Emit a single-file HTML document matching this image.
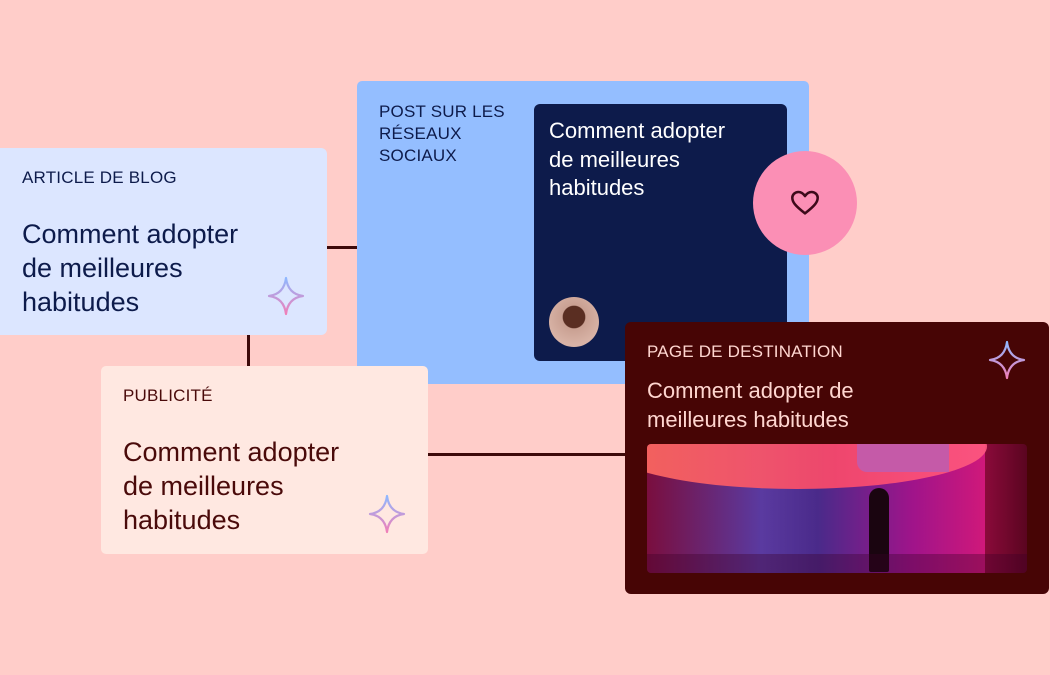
<!DOCTYPE html>
<html><head><meta charset="utf-8"><style>
body{margin:0;width:1050px;height:675px;background:#ffcdc9;position:relative;overflow:hidden;font-family:"Liberation Sans",sans-serif}
.a{position:absolute}
.lbl{font-size:17px;line-height:22px;letter-spacing:0.2px}
.t{font-size:27px;line-height:34px}
.t2{font-size:22px;line-height:28.5px}
</style></head><body>
<svg width="0" height="0" style="position:absolute"><defs><linearGradient id="g" x1="0" y1="0" x2="0" y2="1"><stop offset="0" stop-color="#8fb8ff"/><stop offset="1" stop-color="#f07fb8"/></linearGradient></defs></svg>
<div class="a" style="left:326px;top:246px;width:32px;height:3px;background:#3d0a0a"></div>
<div class="a" style="left:247px;top:334px;width:3px;height:33px;background:#3d0a0a"></div>
<div class="a" style="left:427px;top:453px;width:200px;height:3px;background:#3d0a0a"></div>

<div class="a" style="left:0;top:148px;width:327px;height:187px;background:#dce6ff;border-radius:0 6px 6px 0;color:#0d1b4b">
<div class="a lbl" style="left:22px;top:19px">ARTICLE DE BLOG</div>
<div class="a t" style="left:22px;top:69px">Comment adopter<br>de meilleures<br>habitudes</div>
<svg class="a" style="left:267px;top:128px" width="38" height="40" viewBox="0 0 38 40"><path d="M19 2 Q21 18 36 20 Q21 22 19 38 Q17 22 2 20 Q17 18 19 2Z" fill="none" stroke="url(#g)" stroke-width="2.2" stroke-linejoin="round"/></svg>
</div>

<div class="a" style="left:357px;top:81px;width:452px;height:303px;background:#94beff;border-radius:5px;color:#0d1b4b">
<div class="a lbl" style="left:22px;top:20px">POST SUR LES<br>RÉSEAUX<br>SOCIAUX</div>
<div class="a" style="left:177px;top:23px;width:253px;height:257px;background:#0d1b4b;border-radius:6px;color:#fff">
<div class="a t2" style="left:15px;top:13px">Comment adopter<br>de meilleures<br>habitudes</div>
<div class="a" style="left:15px;top:193px;width:50px;height:50px;border-radius:50%;background:radial-gradient(circle at 50% 40%,#5a2e22 0 28%,#c9a092 30%,#d8b3a6 70%)"></div>
</div>
</div>
<div class="a" style="left:753px;top:151px;width:104px;height:104px;border-radius:50%;background:#fb8fb5"></div>
<svg class="a" style="left:790px;top:189px" width="30" height="28" viewBox="0 0 26 24"><path d="M13 21 C4 14 2 11 2 7.5 C2 4.5 4.5 2.5 7.3 2.5 C9.8 2.5 11.6 4 13 6 C14.4 4 16.2 2.5 18.7 2.5 C21.5 2.5 24 4.5 24 7.5 C24 11 22 14 13 21Z" fill="none" stroke="#3d0a1a" stroke-width="2.2" stroke-linejoin="round"/></svg>

<div class="a" style="left:101px;top:366px;width:327px;height:188px;background:#ffe8e1;border-radius:5px;color:#4a0a0a">
<div class="a lbl" style="left:22px;top:19px">PUBLICITÉ</div>
<div class="a t" style="left:22px;top:69px">Comment adopter<br>de meilleures<br>habitudes</div>
<svg class="a" style="left:267px;top:128px" width="38" height="40" viewBox="0 0 38 40"><path d="M19 2 Q21 18 36 20 Q21 22 19 38 Q17 22 2 20 Q17 18 19 2Z" fill="none" stroke="url(#g)" stroke-width="2.2" stroke-linejoin="round"/></svg>
</div>

<div class="a" style="left:625px;top:322px;width:424px;height:272px;background:#470505;border-radius:6px;color:#ffd6d0">
<div class="a lbl" style="left:22px;top:19px">PAGE DE DESTINATION</div>
<div class="a t2" style="left:22px;top:55px">Comment adopter de<br>meilleures habitudes</div>
<svg class="a" style="left:363px;top:18px" width="38" height="40" viewBox="0 0 38 40"><path d="M19 2 Q21 18 36 20 Q21 22 19 38 Q17 22 2 20 Q17 18 19 2Z" fill="none" stroke="url(#g)" stroke-width="2.2" stroke-linejoin="round"/></svg>
<div class="a" style="left:22px;top:122px;width:380px;height:129px;border-radius:4px;overflow:hidden;background:linear-gradient(90deg,#7a0e3e 0%,#5a3aa0 30%,#4a2a8a 45%,#a0148a 70%,#d0187a 89%,#8a0a3a 89%,#5a0520 100%)">
<div class="a" style="left:-40px;top:-40px;width:380px;height:85px;border-radius:50%;background:linear-gradient(90deg,#ff7060,#ff4a6a 60%,#ff5a80);opacity:.9"></div>
<div class="a" style="left:210px;top:0;width:92px;height:28px;background:#c55aa8;border-radius:0 0 0 10px"></div>
<div class="a" style="left:222px;top:44px;width:20px;height:84px;background:#1a0510;border-radius:10px 10px 2px 2px"></div>
<div class="a" style="left:0;top:110px;width:380px;height:19px;background:rgba(60,0,40,.35)"></div>
</div>
</div>
</body></html>
